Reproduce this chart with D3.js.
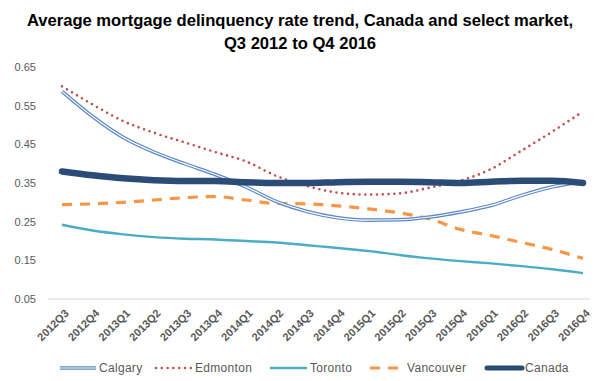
<!DOCTYPE html>
<html>
<head>
<meta charset="utf-8">
<script src="https://cdn.jsdelivr.net/npm/d3@7"></script>
<style>
  body { margin: 0; background: #fff; }
  svg { display: block; font-family: 'Liberation Sans', Arial, sans-serif; }
</style>
</head>
<body>
<div id="container"></div>
<script>
const quarters = ['2012Q3','2012Q4','2013Q1','2013Q2','2013Q3','2013Q4','2014Q1','2014Q2','2014Q3',
  '2014Q4','2015Q1','2015Q2','2015Q3','2015Q4','2016Q1','2016Q2','2016Q3','2016Q4'];
const calgary = [0.587,0.522,0.468,0.430,0.400,0.372,0.340,0.302,0.276,0.260,0.254,0.255,0.262,0.275,0.292,0.318,0.340,0.354];
const edmonton = [0.600,0.553,0.510,0.480,0.455,0.430,0.406,0.368,0.342,0.325,0.320,0.323,0.338,0.356,0.386,0.434,0.483,0.535];
const toronto = [0.242,0.227,0.217,0.210,0.206,0.204,0.200,0.196,0.189,0.182,0.174,0.164,0.155,0.148,0.142,0.135,0.127,0.117];
const vancouver = [0.294,0.296,0.300,0.306,0.312,0.315,0.306,0.297,0.296,0.291,0.283,0.273,0.257,0.230,0.214,0.196,0.178,0.155];
const canada = [0.380,0.370,0.362,0.357,0.355,0.355,0.352,0.350,0.350,0.352,0.353,0.353,0.352,0.350,0.353,0.356,0.356,0.350];
const yTicks = [0.05,0.15,0.25,0.35,0.45,0.55,0.65];

const w = 600;
const h = 381;
const padLeft = 48;
const padRight = 590;
const padTop = 67;
const padBottom = 299;

const svg = d3.select('#container')
  .append('svg')
  .attr('width', w)
  .attr('height', h);

const xScale = d3.scalePoint()
  .domain(quarters)
  .range([62, 583]);
const yScale = d3.scaleLinear()
  .domain([0.05, 0.65])
  .range([padBottom, padTop]);

// title
const title = svg.append('text')
  .attr('text-anchor', 'middle')
  .attr('font-size', 16.6)
  .attr('font-weight', 'bold')
  .attr('fill', '#000');
title.append('tspan').attr('x', 300).attr('y', 26)
  .text('Average mortgage delinquency rate trend, Canada and select market,');
title.append('tspan').attr('x', 300).attr('y', 49)
  .text('Q3 2012 to Q4 2016');

// baseline
svg.append('line')
  .attr('x1', padLeft).attr('x2', padRight)
  .attr('y1', yScale(0.05)).attr('y2', yScale(0.05))
  .attr('stroke', '#d9d9d9')
  .attr('stroke-width', 1);

// y axis labels
const yAxis = d3.axisLeft(yScale).tickValues(yTicks).tickFormat(d3.format('.2f')).tickSize(0).tickPadding(0);
svg.append('g')
  .attr('transform', `translate(36,0)`)
  .call(yAxis)
  .call(g => g.select('.domain').remove())
  .call(g => g.selectAll('text')
    .attr('font-family', "'Liberation Sans', Arial, sans-serif")
    .attr('font-size', 11)
    .attr('fill', '#595959'));

// x axis labels
const xAxis = d3.axisBottom(xScale).tickSize(0).tickPadding(0);
svg.append('g')
  .attr('transform', `translate(0,${padBottom})`)
  .call(xAxis)
  .call(g => g.select('.domain').remove())
  .call(g => g.selectAll('text')
    .attr('font-family', "'Liberation Sans', Arial, sans-serif")
    .attr('font-size', 11)
    .attr('font-weight', 'bold')
    .attr('fill', '#595959')
    .attr('text-anchor', 'end')
    .attr('dy', null)
    .attr('y', 0)
    .attr('transform', 'translate(7,15) rotate(-45)'));

const line = d3.line()
  .x((d, i) => xScale(quarters[i]))
  .y(d => yScale(d))
  .curve(d3.curveMonotoneX);

const series = [
  { name: 'Calgary', values: calgary },
  { name: 'Edmonton', values: edmonton },
  { name: 'Toronto', values: toronto },
  { name: 'Vancouver', values: vancouver },
  { name: 'Canada', values: canada }
];

const styles = {
  Calgary: [{ stroke: '#5a86c5', width: 3.6 }, { stroke: '#fff', width: 1.2 }],
  Edmonton: [{ stroke: '#c0504d', width: 2.6, dash: '0 5.8', cap: 'round' }],
  Toronto: [{ stroke: '#4bacc6', width: 2.4 }],
  Vancouver: [{ stroke: '#f79646', width: 3.2, dash: '10 8' }],
  Canada: [{ stroke: '#2b4c76', width: 6.5, cap: 'round' }]
};

const drawOrder = ['Vancouver', 'Toronto', 'Calgary', 'Edmonton', 'Canada'];
drawOrder.forEach(name => {
  const s = series.find(d => d.name === name);
  styles[name].forEach(st => {
    svg.append('path')
      .datum(s.values)
      .attr('d', line)
      .attr('fill', 'none')
      .attr('stroke', st.stroke)
      .attr('stroke-width', st.width)
      .attr('stroke-dasharray', st.dash || null)
      .attr('stroke-linecap', st.cap || 'butt')
      .attr('stroke-linejoin', 'round');
  });
});

// legend
const legendItems = [
  { name: 'Calgary', x1: 60, x2: 96 },
  { name: 'Edmonton', x1: 156, x2: 192 },
  { name: 'Toronto', x1: 270, x2: 307 },
  { name: 'Vancouver', x1: 370, x2: 404 },
  { name: 'Canada', x1: 487, x2: 522 }
];
const ly = 368;
const legend = svg.append('g').attr('id', 'legend');
legendItems.forEach(it => {
  styles[it.name].forEach(st => {
    legend.append('line')
      .attr('x1', it.x1).attr('x2', it.x2)
      .attr('y1', ly).attr('y2', ly)
      .attr('stroke', st.stroke)
      .attr('stroke-width', it.name === 'Canada' ? 5 : st.width)
      .attr('stroke-dasharray', st.dash || null)
      .attr('stroke-linecap', st.cap || 'butt');
  });
  legend.append('text')
    .attr('x', it.x2 + 3)
    .attr('y', ly + 4)
    .attr('font-size', 12)
    .attr('letter-spacing', 0.3)
    .attr('fill', '#595959')
    .text(it.name);
});
</script>
</body>
</html>
